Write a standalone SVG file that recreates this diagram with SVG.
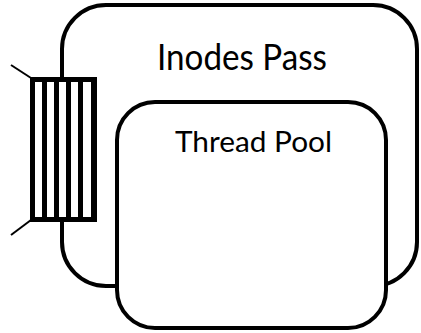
<svg xmlns="http://www.w3.org/2000/svg" width="421" height="333" viewBox="0 0 421 333">
  <style>
    .box { fill: #fff; stroke: #000; stroke-width: 4; }
    .bar { fill: #000; }
    .wire { stroke: #000; stroke-width: 2; fill: none; }
    .label { font-family: Lato, "Liberation Sans", sans-serif; fill: #000; text-anchor: middle; }
  </style>
  <g id="inodes-pass">
    <rect class="box" x="62" y="5" width="355" height="281" rx="44" ry="44"/>
    <text class="label" x="242" y="70" font-size="36" textLength="170" lengthAdjust="spacingAndGlyphs">Inodes Pass</text>
  </g>
  <g id="thread-pool">
    <rect class="box" x="117" y="102" width="269" height="226" rx="38" ry="38"/>
    <text class="label" x="253.5" y="152" font-size="28" textLength="157" lengthAdjust="spacingAndGlyphs">Thread Pool</text>
  </g>
  <g id="queue">
    <rect x="30" y="77" width="67" height="145" fill="#fff"/>
    <rect class="bar" x="30" y="77" width="67" height="5"/>
    <rect class="bar" x="30" y="217" width="67" height="5"/>
    <rect class="bar" x="30" y="77" width="5" height="145"/>
    <rect class="bar" x="42" y="77" width="5" height="145"/>
    <rect class="bar" x="54" y="77" width="5" height="145"/>
    <rect class="bar" x="66" y="77" width="5" height="145"/>
    <rect class="bar" x="78" y="77" width="5" height="145"/>
    <rect class="bar" x="91" y="77" width="6" height="145"/>
  </g>
  <g id="connectors">
    <line class="wire" x1="11" y1="65" x2="31" y2="78"/>
    <line class="wire" x1="11" y1="235" x2="31" y2="220"/>
  </g>
</svg>
